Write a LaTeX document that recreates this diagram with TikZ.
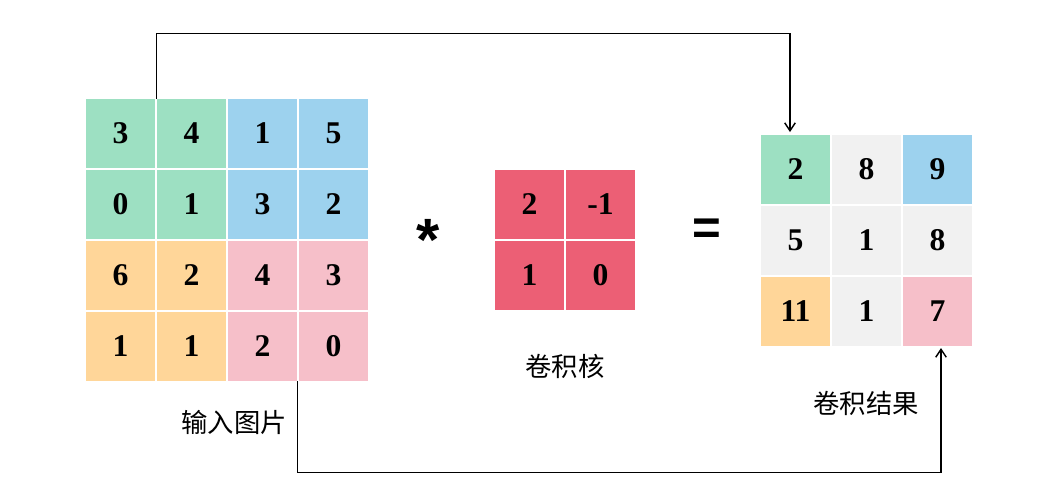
\documentclass[tikz,border=0pt]{standalone}
\usepackage{fontspec}
\setmainfont{Liberation Serif}
\newfontfamily\cjk{Noto Sans CJK SC}
\newfontfamily\opfont{Liberation Sans}
\usetikzlibrary{arrows.meta,
	positioning,
	calc}
\definecolor{cgreen}{RGB}{157,224,194}
\definecolor{cblue}{RGB}{157,210,238}
\definecolor{corange}{RGB}{255,214,153}
\definecolor{cpink}{RGB}{246,191,201}
\definecolor{cred}{RGB}{236,95,117}
\definecolor{cgrey}{RGB}{241,241,241}

\begin{document}
\begin{tikzpicture}[x=0.02cm, y=-0.02cm,
	cell/.style={minimum width=1.38cm, minimum height=1.38cm, inner sep=0pt, font=\fontsize{18}{21}\selectfont\bfseries},
	lbl/.style={font=\cjk\fontsize{15}{18}\selectfont},
	link/.style={line width=0.8pt, -{Straight Barb[length=4.5pt,width=6pt]}}]
	\useasboundingbox (0, 0) rectangle (1056, 502);
	% input image
	\foreach \vals [count=\row] in {{3/cgreen,4/cgreen,1/cblue,5/cblue},{0/cgreen,1/cgreen,3/cblue,2/cblue},{6/corange,2/corange,4/cpink,3/cpink},{1/corange,1/corange,2/cpink,0/cpink}}
		\foreach \v/\c [count=\col] in \vals
			\node[cell, fill=\c] (in-\row-\col) at ({120.5+71*(\col-1)}, {133.5+71*(\row-1)}) {\v};
	% kernel
	\foreach \vals [count=\row] in {{2,-1},{1,0}}
		\foreach \v [count=\col] in \vals
			\node[cell, fill=cred] (ker-\row-\col) at ({529.5+71*(\col-1)}, {204.5+71*(\row-1)}) {\v};
	% result
	\foreach \vals [count=\row] in {{2/cgreen,8/cgrey,9/cblue},{5/cgrey,1/cgrey,8/cgrey},{11/corange,1/cgrey,7/cpink}}
		\foreach \v/\c [count=\col] in \vals
			\node[cell, fill=\c] (out-\row-\col) at ({795.5+71*(\col-1)}, {169.5+71*(\row-1)}) {\v};
	\node[font=\opfont\bfseries\fontsize{34}{36}\selectfont] (mul) at (428, 240) {*};
	\node[font=\opfont\bfseries\fontsize{28}{30}\selectfont] (eq) at (707, 232) {=};
	\node[lbl] (lblin) at (234, 422) {输入图片};
	\node[lbl] (lblker) at (565, 366) {卷积核};
	\node[lbl] (lblout) at (866, 403) {卷积结果};
	\draw[link, shorten >=1.5pt] (in-1-2.north west) -- ++(0, -65) -| ([xshift=-0.11cm]out-1-1.north);
	\draw[link, shorten >=1pt] (in-4-3.south east) -- ++(0, 91) -| ([xshift=0.07cm]out-3-3.south);
\end{tikzpicture}
\end{document}
